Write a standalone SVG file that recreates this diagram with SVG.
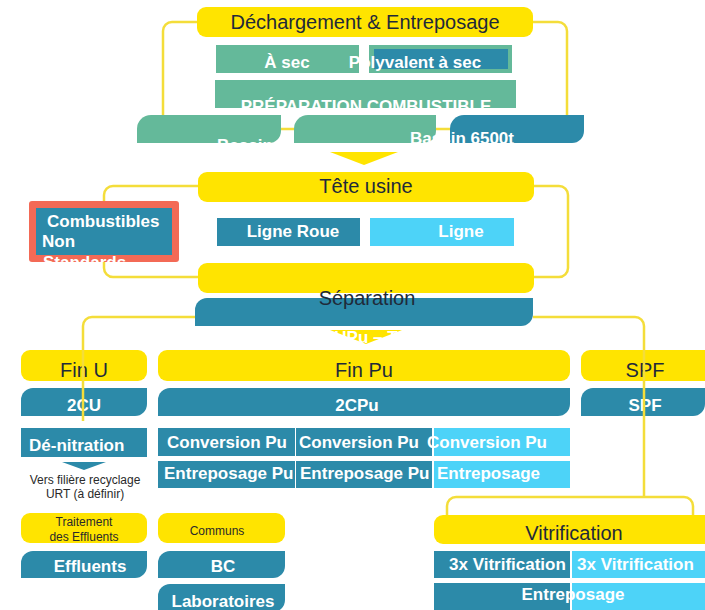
<svg xmlns="http://www.w3.org/2000/svg" width="705" height="610" viewBox="0 0 705 610">
<style>
.y{fill:#ffe400}
.t{fill:#2c8aa9}
.g{fill:#64b99a}
.lb{fill:#4dd3f8}
.h{font-family:"Liberation Sans",Arial,sans-serif;font-size:20px;fill:#1f2a3a;text-anchor:middle}
.w{font-family:"Liberation Sans",Arial,sans-serif;font-size:17px;font-weight:bold;fill:#ffffff}
.m{text-anchor:middle}
.s{font-family:"Liberation Sans",Arial,sans-serif;font-size:12px;fill:#2a2a2a;text-anchor:middle}
.c{fill:none;stroke:#f4dd3a;stroke-width:2.5}
</style>
<rect width="705" height="610" fill="#ffffff"/>

<g id="dechargement">
<rect class="y" x="197" y="7" width="336" height="30" rx="9"/>
<text class="h" x="365" y="29">Déchargement &amp; Entreposage</text>
</g>
<g id="a-sec">
<rect class="g" x="216" y="45" width="143" height="28"/>
<text class="w m" x="287" y="68">À sec</text>
</g>
<g id="polyvalent">
<rect class="g" x="369" y="45" width="143" height="28"/>
<rect class="t" x="374" y="49" width="134" height="20"/>
<text class="w m" x="415" y="68">Polyvalent à sec</text>
</g>
<g id="preparation">
<rect class="g" x="215" y="80" width="301" height="28"/>
<text class="w m" x="366" y="112">PRÉPARATION COMBUSTIBLE</text>
</g>
<g id="bassin1">
<path class="g" d="M137,143 V129 A14,14 0 0 1 151,115 H281 V131 A12,12 0 0 1 269,143 Z"/>
<text class="w m" x="269" y="151">Bassin 7500t</text>
</g>
<g id="bassin2">
<path class="g" d="M294,143 V129 A14,14 0 0 1 308,115 H436 V131 A12,12 0 0 1 424,143 Z"/>
</g>
<g id="bassin3">
<path class="t" d="M450,143 V129 A14,14 0 0 1 464,115 H584 V131 A12,12 0 0 1 572,143 Z"/>
<text class="w m" x="462" y="144">Bassin 6500t</text>
</g>
<g id="fleche1">
<polygon class="y" points="330,152 398,152 364,165"/>
</g>

<g id="tete-usine">
<rect class="y" x="198" y="172" width="336" height="30" rx="9"/>
<text class="h" x="366" y="193">Tête usine</text>
</g>
<g id="combustibles-non-standards">
<rect x="29" y="201" width="150" height="61" rx="3" fill="#f36a56"/>
<rect class="t" x="36" y="208" width="136" height="47"/>
<text class="w" x="47" y="227">Combustibles</text>
<text class="w" x="42" y="247">Non</text>
<text class="w" x="43" y="268">Standards</text>
</g>
<g id="ligne-roue">
<rect class="t" x="217" y="218" width="143" height="28"/>
<text class="w m" x="293" y="237">Ligne Roue</text>
</g>
<g id="ligne">
<rect class="lb" x="370" y="218" width="144" height="28"/>
<text class="w m" x="461" y="237">Ligne</text>
</g>

<g id="separation">
<rect class="y" x="198" y="263" width="336" height="30" rx="9"/>
<path class="t" d="M195,326 V310 A12,12 0 0 1 207,298 H533 V314 A12,12 0 0 1 521,326 Z"/>
<text class="h" x="367" y="305">Séparation</text>
</g>
<g id="fleche2">
<polygon class="y" points="330,330 402,330 366,344"/>
<text class="w m" x="366" y="343">UPu – T</text>
</g>

<g id="fin-u">
<rect class="y" x="21" y="350" width="126" height="31" rx="9"/>
<text class="h" x="84" y="377">Fin U</text>
</g>
<g id="cu2">
<path class="t" d="M21,416 V400 A12,12 0 0 1 33,388 H147 V404 A12,12 0 0 1 135,416 Z"/>
<text class="w m" x="84" y="411">2CU</text>
</g>
<g id="denitration">
<rect class="t" x="21" y="428" width="126" height="29"/>
<text class="w" x="29" y="451">Dé-nitration</text>
<polygon class="t" points="62,462 106,462 84,470"/>
<text class="s" x="85" y="484">Vers filière recyclage</text>
<text class="s" x="85" y="498">URT (à définir)</text>
</g>

<g id="fin-pu">
<rect class="y" x="158" y="350" width="412" height="31" rx="9"/>
<text class="h" x="364" y="377">Fin Pu</text>
</g>
<g id="cpu2">
<path class="t" d="M158,416 V400 A12,12 0 0 1 170,388 H570 V404 A12,12 0 0 1 558,416 Z"/>
<text class="w m" x="357" y="411">2CPu</text>
</g>
<g id="conversion-1">
<rect class="t" x="158" y="428" width="137" height="28"/>
<rect class="t" x="158" y="461" width="137" height="27"/>
<text class="w" x="167" y="448">Conversion Pu</text>
<text class="w" x="164" y="479">Entreposage Pu</text>
</g>
<g id="conversion-2">
<rect class="t" x="296" y="428" width="136" height="28"/>
<rect class="t" x="296" y="461" width="136" height="27"/>
<text class="w" x="299" y="448">Conversion Pu</text>
<text class="w" x="300" y="479">Entreposage Pu</text>
</g>
<g id="conversion-3">
<rect class="lb" x="434" y="428" width="136" height="28"/>
<rect class="lb" x="434" y="461" width="136" height="27"/>
<text class="w" x="427" y="448">Conversion Pu</text>
<text class="w" x="437" y="479">Entreposage</text>
</g>

<g id="spf">
<rect class="y" x="581" y="350" width="134" height="31" rx="9"/>
<text class="h" x="645" y="377">SPF</text>
<path class="t" d="M581,416 V400 A12,12 0 0 1 593,388 H705 V404 A12,12 0 0 1 693,416 Z"/>
<text class="w m" x="645" y="411">SPF</text>
</g>

<g id="vitrification">
<rect class="y" x="434" y="515" width="281" height="29" rx="9"/>
<text class="h" x="574" y="540">Vitrification</text>
<rect class="t" x="434" y="551" width="136" height="27"/>
<rect class="lb" x="572" y="551" width="133" height="27"/>
<text class="w" x="449" y="570">3x Vitrification</text>
<text class="w" x="577" y="570">3x Vitrification</text>
<rect class="t" x="434" y="583" width="136" height="27"/>
<rect class="lb" x="572" y="583" width="133" height="27"/>
<text class="w m" x="573" y="600">Entreposage</text>
</g>

<g id="effluents">
<rect class="y" x="21" y="513" width="126" height="30" rx="9"/>
<text class="s" x="84" y="526">Traitement</text>
<text class="s" x="84" y="541">des Effluents</text>
<path class="t" d="M21,578 V563 A12,12 0 0 1 33,551 H147 V566 A12,12 0 0 1 135,578 Z"/>
<text class="w m" x="90" y="572">Effluents</text>
</g>

<g id="communs">
<rect class="y" x="158" y="513" width="127" height="30" rx="9"/>
<text class="s" x="217" y="535">Communs</text>
<path class="t" d="M158,578 V563 A12,12 0 0 1 170,551 H285 V566 A12,12 0 0 1 273,578 Z"/>
<text class="w m" x="223" y="572">BC</text>
<path class="t" d="M158,612 V596 A12,12 0 0 1 170,584 H285 V600 A12,12 0 0 1 273,612 Z"/>
<text class="w m" x="223" y="607">Laboratoires</text>
</g>

<g id="connectors">
<path class="c" d="M197,22 H172 A9,9 0 0 0 163,31 V115"/>
<path class="c" d="M281,129 H294 M436,129 H450"/>
<path class="c" d="M533,22 H558 A9,9 0 0 1 567,31 V115"/>
<path class="c" d="M198,186 H113 A9,9 0 0 0 104,195 V201 M104,262 V268 A9,9 0 0 0 113,277 H198"/>
<path class="c" d="M534,186 H559 A9,9 0 0 1 568,195 V268 A9,9 0 0 1 559,277 H534"/>
<path class="c" d="M195,317 H92 A9,9 0 0 0 83,326 V421"/>
<path class="c" d="M533,317 H635 A9,9 0 0 1 644,326 V497"/>
<path class="c" d="M447,515 V506 A9,9 0 0 1 456,497 H684 A9,9 0 0 1 693,506 V515"/>
</g>
</svg>
